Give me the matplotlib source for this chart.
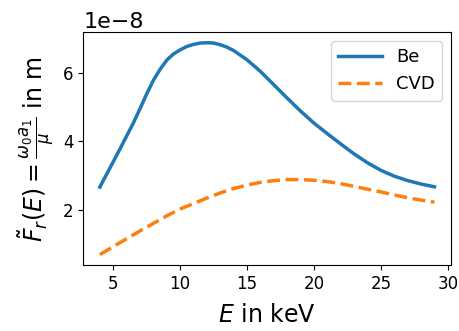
import matplotlib
matplotlib.use("Agg")
import matplotlib.pyplot as plt
import numpy as np

# photon energy in keV
energy_be = [4, 4.5, 5, 5.5, 6, 6.5, 7, 7.5, 8, 8.5, 9, 9.5, 10, 10.5, 11, 11.5, 12,
             12.5, 13, 13.5, 14, 15, 16, 17, 18, 19, 20, 21, 22, 23, 24, 25, 26, 27,
             28, 29]
# values in units of 1e-8 m
values_be = [2.66, 3.03, 3.40, 3.77, 4.15, 4.53, 4.95, 5.38, 5.78, 6.10, 6.37, 6.55,
             6.67, 6.77, 6.83, 6.87, 6.88, 6.87, 6.82, 6.75, 6.65, 6.38, 6.04, 5.65,
             5.26, 4.88, 4.53, 4.22, 3.92, 3.63, 3.37, 3.15, 2.98, 2.85, 2.75, 2.67]

energy_cvd = [4, 5, 6, 7, 8, 9, 10, 11, 12, 13, 14, 15, 16, 17, 18, 19, 20, 21, 22,
              23, 24, 25, 26, 27, 28, 29]
values_cvd = [0.69, 0.92, 1.15, 1.38, 1.60, 1.82, 2.02, 2.18, 2.34, 2.49, 2.62, 2.72,
              2.80, 2.85, 2.88, 2.88, 2.86, 2.82, 2.76, 2.68, 2.60, 2.52, 2.43, 2.35,
              2.28, 2.22]

be = np.array(values_be) * 1e-8
cvd = np.array(values_cvd) * 1e-8

fig, ax = plt.subplots(figsize=(4.59, 3.31), dpi=100)
fig.subplots_adjust(left=0.181, right=0.983, top=0.903, bottom=0.199)

ax.plot(energy_be, be, color="#1f77b4", lw=2.5, label="Be")
ax.plot(energy_cvd, cvd, color="#ff7f0e", lw=2.5, ls="--", label="CVD")

ax.set_xticks([5, 10, 15, 20, 25, 30])
ax.tick_params(labelsize=12)
ax.yaxis.get_offset_text().set_fontsize(16)
ax.set_xlabel(r"$E$ in keV", fontsize=17, labelpad=7)
ax.set_ylabel(r"$\tilde{F}_r(E) = \frac{\omega_0 a_1}{\mu}$ in m", fontsize=17)
ax.legend(fontsize=13, loc="upper right", handlelength=2.4)

fig.savefig("out.png", dpi=100)
